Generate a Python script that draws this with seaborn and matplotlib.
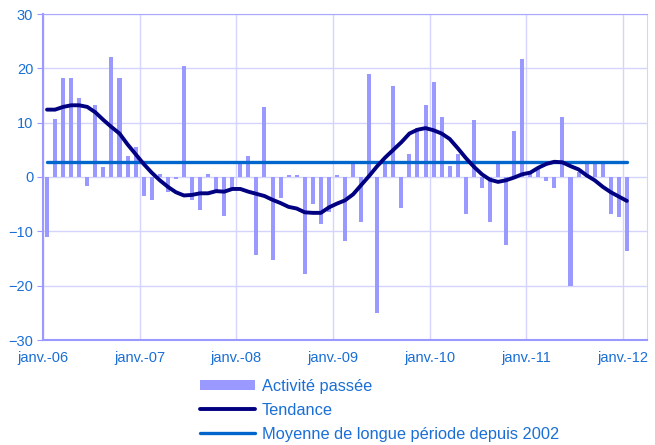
import numpy as np
import pandas as pd
import matplotlib
matplotlib.use("Agg")
import matplotlib.pyplot as plt
import seaborn as sns

# Monthly values, janv. 2006 -> janv. 2012
activite = [
    -11.0, 10.6, 18.2, 18.2, 14.5, -1.7, 13.2, 1.8, 22.0, 18.2, 3.8, 5.6,
    -3.5, -4.3, 0.5, -2.8, -0.3, 20.4, -4.3, -6.1, 0.5, -2.8, -7.2, -2.3,
    3.0, 3.8, -14.4, 12.8, -15.3, -3.9, 0.3, 0.3, -17.9, -5.0, -8.7, -6.4,
    0.4, -11.8, 2.6, -8.3, 18.9, -25.0, 2.6, 16.8, -5.7, 4.3, 9.1, 13.2,
    17.5, 11.0, 2.0, 4.3, -6.8, 10.4, -2.0, -8.3, 2.6, -12.6, 8.5, 21.7,
    0.6, 1.5, -0.8, -2.0, 11.0, -20.1, 1.0, 2.5, 3.0, 2.5, -6.8, -7.4,
    -13.6,
]
tendance = [
    12.4, 12.4, 12.9, 13.2, 13.2, 12.9, 11.9, 10.5, 9.2, 8.0, 6.0, 4.2,
    2.4, 0.8, -0.6, -1.8, -2.8, -3.4, -3.3, -3.0, -3.0, -2.6, -2.7, -2.2,
    -2.2, -2.7, -3.1, -3.5, -4.2, -4.8, -5.5, -5.8, -6.5, -6.6, -6.6, -5.6,
    -4.9, -4.3, -3.2, -1.5, 0.2, 2.0, 3.6, 5.0, 6.4, 8.0, 8.7, 9.0,
    8.6, 8.0, 7.0, 5.3, 3.5, 1.9, 0.5, -0.5, -0.9, -0.6, -0.1, 0.5,
    0.8, 1.7, 2.4, 2.8, 2.7, 2.0, 1.4, 0.3, -0.6, -1.8, -2.8, -3.6,
    -4.4,
]
moyenne = 2.8
tick_labels = ["janv.-06", "janv.-07", "janv.-08", "janv.-09",
               "janv.-10", "janv.-11", "janv.-12"]

months = np.arange(len(activite))
df = pd.DataFrame({"mois": months, "activite": activite, "tendance": tendance})
df["moyenne"] = moyenne

blue_txt = "#1a6fd6"
sns.set_style("white")
plt.rcParams["font.family"] = ["Liberation Sans", "DejaVu Sans"]

fig = plt.figure(figsize=(6.55, 4.45), dpi=100)
ax = fig.add_axes([43 / 655, 1 - 340 / 445, 604 / 655, 326 / 445])

sns.barplot(data=df, x="mois", y="activite", order=list(months), width=0.5,
            color="#9999ff", saturation=1, linewidth=0, ax=ax,
            label="Activité passée", zorder=2)
sns.lineplot(data=df, x="mois", y="tendance", color="#000080", lw=2.8, ax=ax,
             label="Tendance", zorder=4)
sns.lineplot(data=df, x="mois", y="moyenne", color="#0066cc", lw=2.4, ax=ax,
             label="Moyenne de longue période depuis 2002", zorder=3)

ax.set_xlim(-0.5, 74.5)
ax.set_ylim(-30, 30)
ax.set_yticks(range(-30, 31, 10))
ax.set_xticks(np.arange(-0.5, 74, 12))
ax.set_xticklabels(tick_labels)
ax.grid(True, color="#d4d4ff", lw=1, zorder=0)
ax.set_axisbelow(True)
ax.set_xlabel("")
ax.set_ylabel("")
for s in ax.spines.values():
    s.set_color("#d4d4ff")
ax.spines["left"].set_color("#9999ff")
ax.spines["bottom"].set_color("#9999ff")
ax.spines["top"].set_color("#a8a8ff")
ax.spines["left"].set_linewidth(1.5)
ax.spines["bottom"].set_linewidth(1.5)
ax.tick_params(axis="y", length=4, color="#9999ff", labelsize=10.5,
               labelcolor=blue_txt, left=True, pad=3)
ax.tick_params(axis="x", length=0, labelsize=10.5, labelcolor=blue_txt, pad=8)

handles, labels = ax.get_legend_handles_labels()
order = [labels.index("Activité passée"), labels.index("Tendance"),
         labels.index("Moyenne de longue période depuis 2002")]
handles = [handles[i] for i in order]
labels = [labels[i] for i in order]
ax.get_legend().remove()
leg = fig.legend(handles, labels, loc="upper left", bbox_to_anchor=(193 / 655, 1 - 372 / 445),
                 frameon=False, fontsize=11.8, handlelength=3.4, handleheight=0.6,
                 labelspacing=0.55, handletextpad=0.4, borderaxespad=0)
for t in leg.get_texts():
    t.set_color(blue_txt)

fig.savefig("out.png", dpi=100)
